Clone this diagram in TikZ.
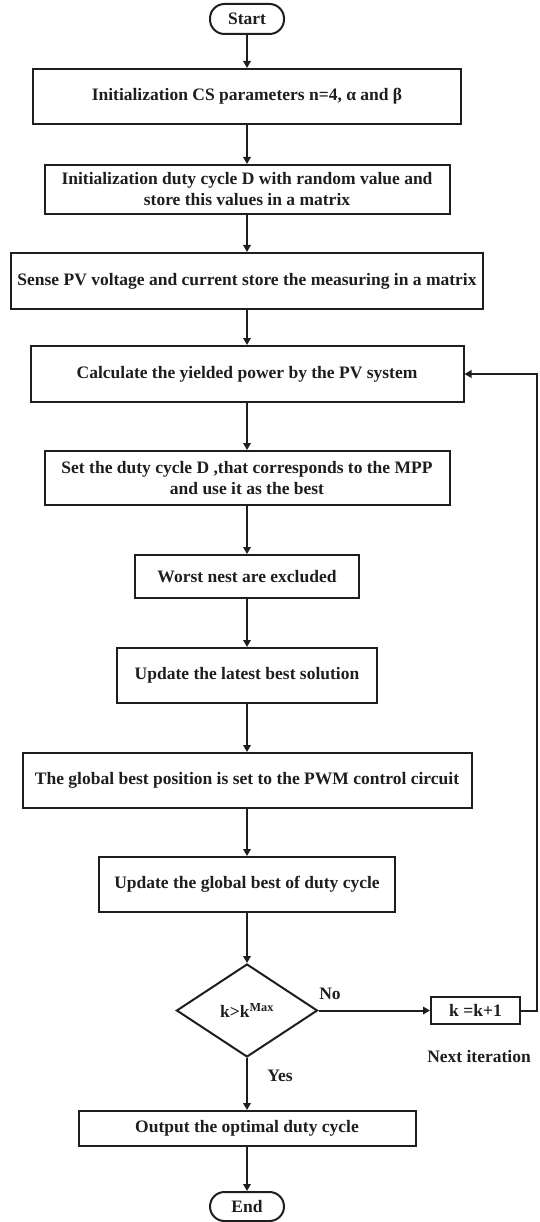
\documentclass[tikz,border=0pt]{standalone}
\usepackage{fontspec}
\setmainfont{Liberation Serif}
\usetikzlibrary{shapes.geometric,arrows.meta}
\definecolor{ink}{HTML}{1E1E1E}
\tikzset{
  base/.style={draw=ink, line width=2pt, text=ink, inner sep=0pt, align=center,
    font=\bfseries\fontsize{17.5}{21}\selectfont},
  procbox/.style={base, rectangle},
  term/.style={base, rectangle, rounded corners=14.5pt, minimum width=74pt},
  decision/.style={base, diamond, minimum width=141pt, minimum height=93pt},
  lbl/.style={text=ink, inner sep=0pt, font=\bfseries\fontsize{17.5}{21}\selectfont},
  arr/.style={draw=ink, line width=2pt, -{Triangle[length=7pt,width=7.5pt]}},
}
\begin{document}
\begin{tikzpicture}[x=1pt,y=-1pt]
\useasboundingbox (0,0) rectangle (539,1222);
\node[term, minimum height=30pt] (start) at (247,19) {Start};
\node[procbox, minimum width=428pt, minimum height=55pt] (b1) at (247,96.5) {Initialization CS parameters n=4, α and β};
\node[procbox, minimum width=405pt, minimum height=49pt] (b2) at (247,189.5) {Initialization duty cycle D with random value and\\store this values in a matrix};
\node[procbox, minimum width=472pt, minimum height=56pt] (b3) at (247,281) {Sense PV voltage and current store the measuring in a matrix};
\node[procbox, minimum width=433pt, minimum height=56pt] (b4) at (247,374) {Calculate the yielded power by the PV system};
\node[procbox, minimum width=405pt, minimum height=54pt] (b5) at (247,478) {Set the duty cycle D ,that corresponds to the MPP\\and use it as the best};
\node[procbox, minimum width=224pt, minimum height=43pt] (b6) at (247,576.5) {Worst nest are excluded};
\node[procbox, minimum width=260pt, minimum height=55pt] (b7) at (247,675.5) {Update the latest best solution};
\node[procbox, minimum width=449pt, minimum height=55pt] (b8) at (247,780.5) {The global best position is set to the PWM control circuit};
\node[procbox, minimum width=296pt, minimum height=55pt] (b9) at (247,884.5) {Update the global best of duty cycle};
\node[decision] (dec) at (247,1010.5) {k>k\textsuperscript{Max}};
\node[procbox, minimum width=89pt, minimum height=27pt] (kb) at (475.5,1010.5) {k =k+1};
\node[procbox, minimum width=337pt, minimum height=35pt] (out) at (247,1128.5) {Output the optimal duty cycle};
\node[term, minimum height=29pt] (end) at (247,1206.5) {End};
\coordinate (rc) at (537,1010.5);
\node[lbl] (no) at (330,994) {No};
\node[lbl] (yes) at (280,1076) {Yes};
\node[lbl] (next) at (479,1057) {Next iteration};
\draw[arr] (start) -- (b1);
\draw[arr] (b1) -- (b2);
\draw[arr] (b2) -- (b3);
\draw[arr] (b3) -- (b4);
\draw[arr] (b4) -- (b5);
\draw[arr] (b5) -- (b6);
\draw[arr] (b6) -- (b7);
\draw[arr] (b7) -- (b8);
\draw[arr] (b8) -- (b9);
\draw[arr] (b9) -- (dec);
\draw[arr] (dec.east) -- (kb.west);
\draw[arr] (kb.east) -- (rc) |- (b4.east);
\draw[arr] (dec.south) -- (out.north);
\draw[arr] (out) -- (end);
\end{tikzpicture}
\end{document}
